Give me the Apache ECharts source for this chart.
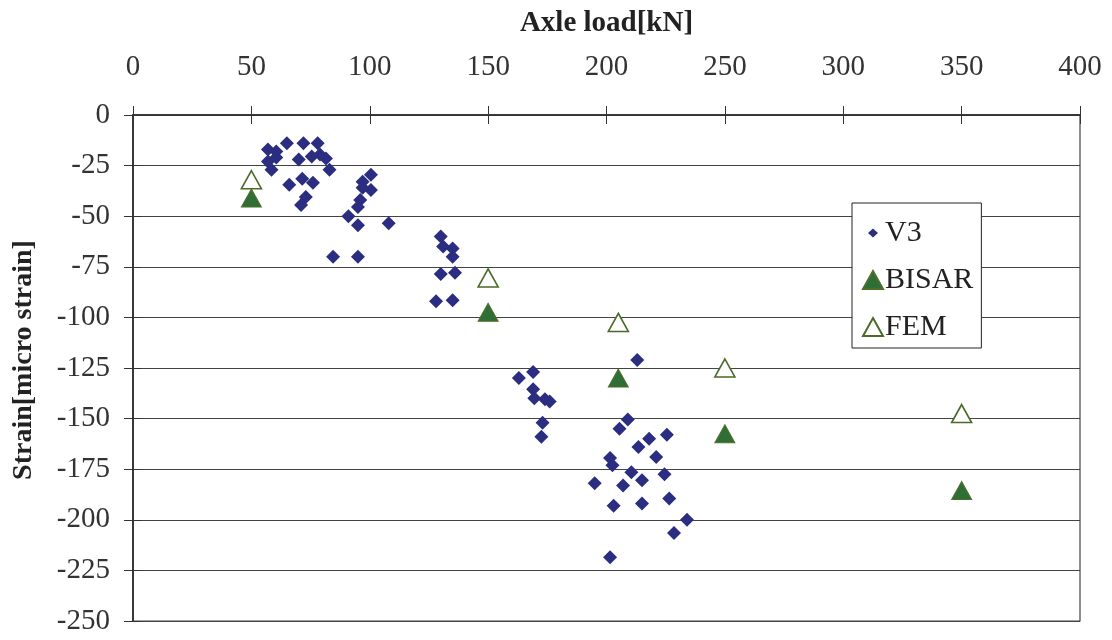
<!DOCTYPE html>
<html>
<head>
<meta charset="utf-8">
<script src="https://cdn.jsdelivr.net/npm/echarts@6/dist/echarts.min.js"></script>
<style>
  html, body { margin: 0; padding: 0; background: #fff; }
  #chart { width: 1112px; height: 640px; }
</style>
</head>
<body>
<div id="chart"></div>
<script>
// axis ticks
const xTicks = [0, 50, 100, 150, 200, 250, 300, 350, 400];
const yTicks = [0, -25, -50, -75, -100, -125, -150, -175, -200, -225, -250];

// measured strain (V3 gauge)
const v3Load = [
  57, 60.5, 65, 72, 78, 57, 58.5, 60.5, 70, 75.5, 79, 81.5, 83, 66, 71.5, 76, 73, 71,
  100.5, 97, 100.5, 97, 96, 95, 91, 95, 108, 84.5, 95,
  130, 131, 135, 135, 130, 136, 128, 135,
  163, 169, 169, 169.5, 174, 176, 173, 172.5,
  213, 209, 205.5, 218, 225.5, 213.5, 221, 201.5, 202.5, 210.5, 224.5, 195, 207, 215,
  226.5, 203, 215, 234, 228.5, 201.5
];
const v3Strain = [
  -17, -18, -14, -14, -14, -23, -27, -21, -22, -20.5, -19.5, -21.5, -27, -34.5, -31.5, -33.5, -40.5, -44.5,
  -29.5, -33, -37, -36, -42, -45.5, -50, -54.5, -53.5, -70, -70,
  -60, -65, -66, -70, -78.5, -78, -92, -91.5,
  -130, -127, -135.5, -140, -140.5, -141.5, -152, -159,
  -121, -150.5, -155, -160, -158, -164, -169, -169.5, -173, -176.5, -177.5, -182, -183, -180.5,
  -189.5, -193, -192, -200, -206.5, -218.5
];

// calculated strain
const modelLoad = [50, 150, 205, 250, 350];
const bisarStrain = [-41, -97.5, -130, -157.5, -185.5];
const femStrain = [-32, -80.5, -102.5, -125, -147.5];

const serif = "'Liberation Serif', 'DejaVu Serif', serif";
const pairs = (xs, ys) => xs.map((x, i) => [x, ys[i]]);

const chart = echarts.init(document.getElementById("chart"), null, { renderer: "canvas" });

const xBase = {
  type: "value",
  position: "top",
  min: xTicks[0],
  max: xTicks[xTicks.length - 1],
  interval: xTicks[1] - xTicks[0],
  splitLine: { show: false },
  axisLine: { show: true, lineStyle: { color: "#333", width: 1.5 } },
};
const yBase = {
  type: "value",
  position: "left",
  min: yTicks[yTicks.length - 1],
  max: yTicks[0],
  interval: yTicks[0] - yTicks[1],
  axisLine: { show: true, lineStyle: { color: "#333", width: 1.5 } },
};

chart.setOption({
  backgroundColor: "#fff",
  animation: false,
  grid: {
    left: 133, top: 115, width: 947, height: 506,
    show: true, borderColor: "#444", borderWidth: 1.2,
  },
  xAxis: [
    {
      ...xBase,
      name: "Axle load[kN]",
      nameLocation: "middle",
      nameGap: 77,
      nameTextStyle: { fontFamily: serif, fontWeight: "bold", fontSize: 29, color: "#222" },
      axisTick: { show: true, inside: false, length: 9, lineStyle: { color: "#333" } },
      axisLabel: { fontFamily: serif, fontSize: 29, color: "#333", margin: 33 },
    },
    {
      ...xBase,
      axisTick: { show: true, inside: true, length: 9, lineStyle: { color: "#333" } },
      axisLabel: { show: false },
    },
  ],
  yAxis: [
    {
      ...yBase,
      name: "Strain[micro strain]",
      nameLocation: "middle",
      nameGap: 95,
      nameTextStyle: { fontFamily: serif, fontWeight: "bold", fontSize: 28, color: "#222", padding: [0, 0, 0, 16] },
      axisTick: { show: true, inside: false, length: 9, lineStyle: { color: "#333" } },
      axisLabel: { fontFamily: serif, fontSize: 29, color: "#333", margin: 23 },
      splitLine: { show: true, lineStyle: { color: "#444", width: 1.2 } },
    },
    {
      ...yBase,
      axisTick: { show: true, inside: true, length: 8, lineStyle: { color: "#333" } },
      axisLabel: { show: false },
      splitLine: { show: false },
    },
  ],
  legend: {
    left: 852,
    top: 203,
    orient: "vertical",
    backgroundColor: "#fff",
    borderColor: "#222",
    borderWidth: 1,
    padding: [15, 8, 6, 10],
    itemGap: 17,
    itemWidth: 20,
    itemHeight: 18,
    selectedMode: false,
    textStyle: { fontFamily: serif, fontSize: 30, color: "#222", padding: [0, 0, 0, -3] },
    data: [
      { name: "V3", icon: "path://M0,0L0,0M20,18L20,18M5,9L10,4.5L15,9L10,13.5Z" },
      { name: "BISAR" },
      { name: "FEM" },
    ],
  },
  series: [
    {
      name: "V3",
      type: "scatter",
      xAxisIndex: 0,
      yAxisIndex: 0,
      symbol: "diamond",
      symbolSize: [14, 14],
      itemStyle: { color: "#2b2d80", opacity: 1 },
      data: pairs(v3Load, v3Strain),
      z: 3,
    },
    {
      name: "BISAR",
      type: "scatter",
      xAxisIndex: 0,
      yAxisIndex: 0,
      symbol: "triangle",
      symbolSize: [20, 18],
      itemStyle: { color: "#2f6e35", borderColor: "#4f6f2c", borderWidth: 1, opacity: 1 },
      data: pairs(modelLoad, bisarStrain),
      z: 4,
    },
    {
      name: "FEM",
      type: "scatter",
      xAxisIndex: 0,
      yAxisIndex: 0,
      symbol: "triangle",
      symbolSize: [20, 18],
      itemStyle: { color: "#fff", borderColor: "#4a6a2a", borderWidth: 1.6, opacity: 1 },
      data: pairs(modelLoad, femStrain),
      z: 4,
    },
  ],
});
</script>
</body>
</html>
